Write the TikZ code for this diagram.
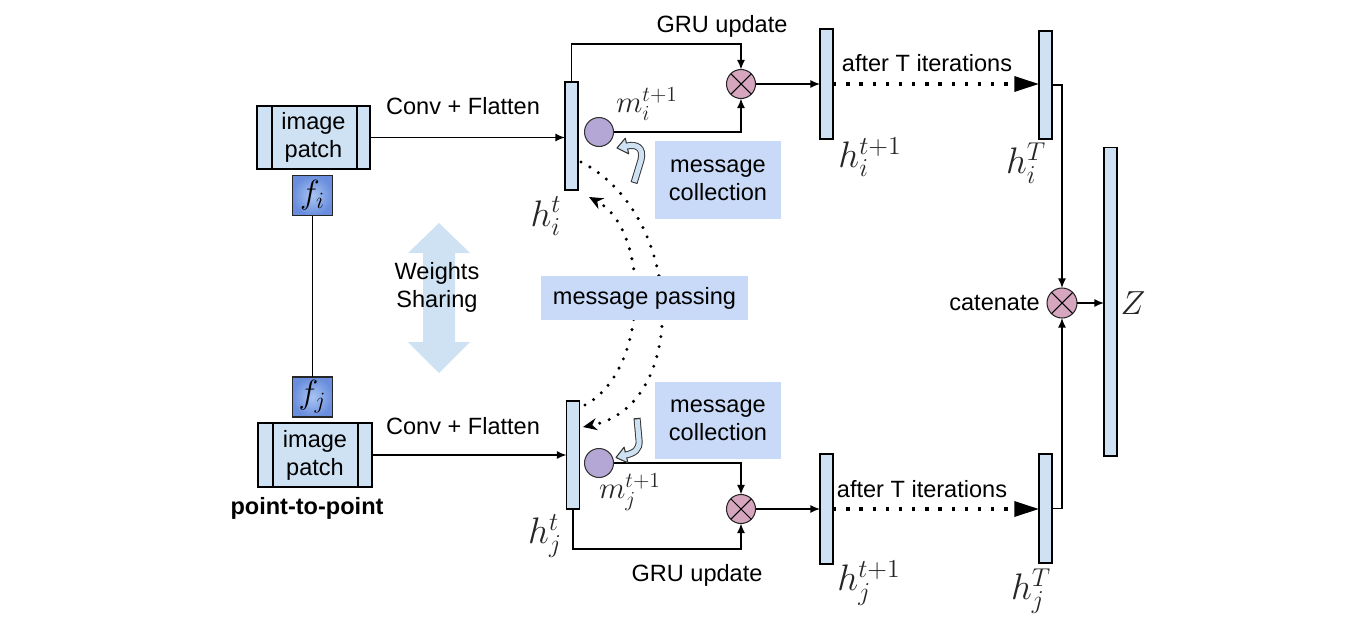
\RequirePackage{fix-cm}
\documentclass[tikz,border=0pt]{standalone}
\usepackage[no-math]{fontspec}
\setmainfont{Liberation Sans}
\usetikzlibrary{arrows.meta,calc}
\definecolor{barblue}{HTML}{CFE2F3}
\definecolor{boxblue}{HTML}{C9DAF8}
\definecolor{mpurple}{HTML}{B4A7D6}
\definecolor{opink}{HTML}{D5A6BD}
\definecolor{fin}{HTML}{A9C4F2}
\definecolor{fout}{HTML}{6A8EDD}
\newcommand\mlab{\fontsize{21}{21}\selectfont\color{black!85}}
\newcommand\mlabz{\fontsize{19}{19}\selectfont\color{black!85}}
\newcommand\mlabs{\fontsize{17.5}{17.5}\selectfont\color{black!85}}
\begin{document}
\begin{tikzpicture}[x=0.02cm,y=-0.02cm,
  font=\fontsize{13.4}{16}\selectfont,
  bar/.style={draw=black, line width=0.6pt, fill=barblue, minimum width=0.26cm, inner sep=0pt, outer sep=0pt},
  patch/.style={draw=black, line width=0.6pt, fill=barblue, align=center, inner sep=0pt, outer sep=0pt},
  fbox/.style={draw=black!85, line width=0.9pt, inner color=fin, outer color=fout, minimum size=0.8cm, inner sep=0pt, outer sep=0pt},
  msg/.style={circle, draw=black!80, line width=0.6pt, fill=mpurple, minimum size=0.58cm, inner sep=0pt, outer sep=0pt},
  otim/.style={circle, draw=black!85, line width=0.6pt, fill=opink, minimum size=0.58cm, inner sep=0pt, outer sep=0pt},
  lbox/.style={fill=boxblue, align=center, inner sep=0pt},
  conn/.style={draw=black, line width=0.8pt},
  arr/.style={conn, -{Latex[length=5.5pt,width=4.6pt]}},
  bigdot/.style={draw=black, line width=1.9pt, dash pattern=on 1.9pt off 5.6pt, -{Triangle[length=14pt,width=8.5pt]}},
  mpdots/.style={draw=black, line width=1.9pt, line cap=round, dash pattern=on 0pt off 5.8pt, -{Stealth[length=8pt,width=7pt,line width=0pt]}},
]
\useasboundingbox (0,0) rectangle (1364,626);

% weights sharing double arrow
\fill[barblue] (439,223) -- (470,253) -- (455,253) -- (455,342) -- (470,342) -- (439,373) -- (408,342) -- (423,342) -- (423,253) -- (408,253) -- cycle;
\node[align=center] (ws) at (437,287) {Weights\\Sharing};

% image patches
\node[patch, minimum width=2.26cm, minimum height=1.26cm] (pI) at (313.5,137.5) {image\\patch};
\draw[line width=0.6pt] ($(pI.north west)+(15,0)$) -- ($(pI.south west)+(15,0)$);
\draw[line width=0.6pt] ($(pI.north east)+(-13,0)$) -- ($(pI.south east)+(-13,0)$);
\node[patch, minimum width=2.28cm, minimum height=1.28cm] (pJ) at (315,455) {image\\patch};
\draw[line width=0.6pt] ($(pJ.north west)+(15,0)$) -- ($(pJ.south west)+(15,0)$);
\draw[line width=0.6pt] ($(pJ.north east)+(-14,0)$) -- ($(pJ.south east)+(-14,0)$);
\node[font=\fontsize{13.4}{16}\selectfont\bfseries] (ptp) at (307,508) {point-to-point};

% f boxes
\node[fbox] (fI) at (312.5,195.5) {\fontsize{19}{19}\selectfont$f_i$};
\node[fbox] (fJ) at (312.5,397) {\fontsize{19}{19}\selectfont$f_j$};
\draw[conn] (fI.south) -- (fJ.north);

% bars
\node[bar, minimum height=2.16cm] (hit) at (571.5,136) {};
\node[bar, minimum height=2.16cm] (hjt) at (573,455) {};
\node[bar, minimum height=2.2cm] (hi1) at (826.5,84) {};
\node[bar, minimum height=2.2cm] (hj1) at (826.5,509) {};
\node[bar, minimum height=2.16cm] (hiT) at (1045.5,85) {};
\node[bar, minimum height=2.18cm] (hjT) at (1045.5,508.5) {};
\node[bar, minimum height=6.18cm] (Z) at (1110.5,301.5) {};

% circles
\node[msg] (mi) at (599,132) {};
\node[msg] (mj) at (599,463) {};
\node[otim] (oI) at (741,84) {};
\node[otim] (oJ) at (741,509) {};
\node[otim, minimum size=0.6cm] (oC) at (1062,303) {};
\foreach \o in {oI,oJ,oC}{
  \draw[line width=0.6pt] (\o.north west) -- (\o.south east);
  \draw[line width=0.6pt] (\o.north east) -- (\o.south west);
}

% text labels
\node (cfI) at (463,106) {Conv + Flatten};
\node (cfJ) at (463,426) {Conv + Flatten};
\node (gruI) at (722,26) {GRU update};
\node (gruJ) at (697,575) {GRU update};
\node (atI) at (927,63) {after T iterations};
\node (atJ) at (922,489) {after T iterations};
\node[anchor=east, inner sep=0pt] (cat) at (1040,303) {catenate};

% math labels
\node (lhit) at (546,216) {\mlab$h_i^t$};
\node (lhjt) at (545,536) {\mlab$h_j^t$};
\node (lhi1) at (870,157) {\mlab$h_i^{t+1}$};
\node (lhj1) at (869,583) {\mlab$h_j^{t+1}$};
\node (lhiT) at (1026,163) {\mlab$h_i^T$};
\node (lhjT) at (1031,591) {\mlab$h_j^T$};
\node (lmi) at (647,104) {\mlabs$m_i^{t+1}$};
\node (lmj) at (630,492) {\mlabs$m_j^{t+1}$};
\node (lZ) at (1133,303) {\mlabz$Z$};

% connectors
\draw[arr] (pI.east) -- (pI.east -| hit.west);
\draw[arr] (pJ.east) -- (pJ.east -| hjt.west);
\coordinate (gI) at (741,44);
\draw[arr] (hit.north) |- (gI) -- (oI.north);
\draw[arr] (mi.east) -| (oI.south);
\draw[arr] (oI.east) -- (oI.east -| hi1.west);
\draw[bigdot] (hi1.east) -- (hi1.east -| hiT.west);
\draw[arr] (hiT.east) -| (oC.north);
\draw[arr] (hjT.east) -| (oC.south);
\draw[arr] (oC.east) -- (oC.east -| Z.west);
\coordinate (gJ) at (741,549);
\draw[arr] (hjt.south) |- (gJ) -- (oJ.south);
\draw[arr] (mj.east) -| (oJ.north);
\draw[arr] (oJ.east) -- (oJ.east -| hj1.west);
\draw[bigdot] (hj1.east) -- (hj1.east -| hjT.west);

% message passing dotted curves
\coordinate (c1s) at (581,162);
\coordinate (c1e) at (583,427);
\coordinate (c2s) at (585,405);
\coordinate (c2e) at (589,197);
\draw[mpdots] (c1s) .. controls (685,215) and (690,405) .. (c1e);
\draw[mpdots] (c2s) .. controls (650,370) and (650,230) .. (c2e);

% boxes
\node[lbox, minimum width=2.52cm, minimum height=1.56cm] (mcI) at (718,180) {message\\collection};
\node[lbox, minimum width=2.52cm, minimum height=1.54cm] (mcJ) at (718,420.5) {message\\collection};
\node[lbox, minimum width=4.14cm, minimum height=0.88cm] (mp) at (644.5,298) {message passing};

% blue bent arrows
\draw[black!80, line width=4pt] (634,183) -- (641,160) .. controls (644,147) and (636,144) .. (627,146);
\filldraw[fill=barblue, draw=black!80, line width=0.6pt, line join=round] (617,148) -- (625.3,138.2) -- (628.7,153.8) -- cycle;
\draw[barblue, line width=2.9pt] (634.3,182) -- (641,160) .. controls (644,147) and (636,144) .. (627,146) -- (624,146.7);

\draw[black!80, line width=4pt] (637,418) -- (639,440) .. controls (640,450) and (634,453) .. (626,455);
\filldraw[fill=barblue, draw=black!80, line width=0.6pt, line join=round] (616,457.5) -- (624.1,447.2) -- (627.9,462.8) -- cycle;
\draw[barblue, line width=2.9pt] (637.1,419.3) -- (639,440) .. controls (640,450) and (634,453) .. (626,455) -- (623,455.75);
\end{tikzpicture}
\end{document}
